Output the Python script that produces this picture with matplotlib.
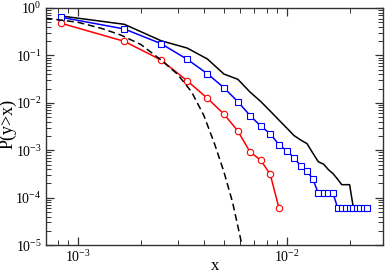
import matplotlib
matplotlib.use('Agg')
import matplotlib.pyplot as plt
from matplotlib.ticker import LogLocator, NullFormatter

plt.rcParams['font.family'] = ['Liberation Serif', 'DejaVu Serif']
plt.rcParams['mathtext.fontset'] = 'stix'

# bin centres (x) shared by the three measured curves
x_bins = [0.000833, 0.001667, 0.0025, 0.003333, 0.004167, 0.005, 0.005833,
          0.006667, 0.0075, 0.008333, 0.009167, 0.01, 0.010833, 0.011667,
          0.0125, 0.013333, 0.014167, 0.015, 0.015833, 0.016667, 0.0175,
          0.018333, 0.019167, 0.02, 0.020833, 0.021667, 0.0225, 0.023333,
          0.024167]

# black solid curve (no markers)
y_black = [0.678, 0.453, 0.204, 0.143, 0.084, 0.0405, 0.0313, 0.0169,
           0.0107, 0.0067, 0.00434, 0.00294, 0.00204, 0.00164, 0.00138,
           0.00087, 0.00057, 0.00051, 0.00039, 0.00032, 0.000247, 0.000188,
           0.000188, 0.000188, 0.000062]

# blue squares
y_blue = [0.636, 0.361, 0.177, 0.0828, 0.0411, 0.0208, 0.01055, 0.0054,
          0.00324, 0.00223, 0.00131, 0.000976, 0.000695, 0.000464, 0.000364,
          0.000247, 0.000123, 0.000123, 0.000123, 0.000123, 0.000062,
          0.000062, 0.000062, 0.000062, 0.000062, 0.000062, 0.000062,
          0.000062, 0.000062]

# red circles
y_red = [0.475, 0.198, 0.080, 0.0292, 0.01245, 0.0058, 0.00254, 0.00092,
         0.00062, 0.00031, 0.000061]

# dashed reference curve
x_dash = [0.0007, 0.001, 0.0013, 0.0016, 0.002, 0.0025, 0.003, 0.0035,
          0.004, 0.0045, 0.005, 0.0055, 0.006, 0.0064]
y_dash = [0.61, 0.50, 0.37, 0.27, 0.17, 0.080, 0.040, 0.017, 0.0055,
          0.0014, 0.00035, 0.00008, 0.000014, 0.000003]

fig = plt.figure(figsize=(3.86, 2.76), dpi=100)
ax = fig.add_axes([0.119, 0.112, 0.874, 0.859])

ax.plot(x_bins[:len(y_black)], y_black, color='black', lw=1.1)
ax.plot(x_bins, y_blue, color='#0000ff', lw=1.1, marker='s', ms=4.2,
        mfc='white', mec='#0000ff', mew=0.8)
ax.plot(x_bins[:len(y_red)], y_red, color='#ff0000', lw=1.1, marker='o',
        ms=4.6, mfc='white', mec='#ff0000', mew=0.8)
ax.plot(x_dash, y_dash, color='black', lw=1.1, ls=(0, (4.5, 2.5)))

ax.set_xscale('log')
ax.set_yscale('log')
ax.set_xlim(7.02e-4, 2.9e-2)
ax.set_ylim(1e-5, 1)

ax.xaxis.set_major_locator(LogLocator(base=10))
ax.xaxis.set_minor_locator(LogLocator(base=10, subs=range(2, 10)))
ax.xaxis.set_minor_formatter(NullFormatter())
ax.yaxis.set_major_locator(LogLocator(base=10, numticks=10))
ax.yaxis.set_minor_locator(LogLocator(base=10, subs=range(2, 10), numticks=10))
ax.yaxis.set_minor_formatter(NullFormatter())

ax.tick_params(which='both', direction='in', top=True, right=True,
               labelsize=10, color='#333333', pad=3)
ax.tick_params(which='major', length=6, width=0.9)
ax.tick_params(which='minor', length=3.5, width=0.7)
for s in ax.spines.values():
    s.set_color('#333333')
    s.set_linewidth(1.0)

ax.set_xlabel('x', fontsize=12, va='center')
ax.xaxis.set_label_coords(0.5, -0.088)
ax.set_ylabel('P(y>x)', fontsize=13, va='center', ha='center')
ax.yaxis.set_label_coords(-0.112, 0.51)

fig.savefig('out.png', dpi=100)
